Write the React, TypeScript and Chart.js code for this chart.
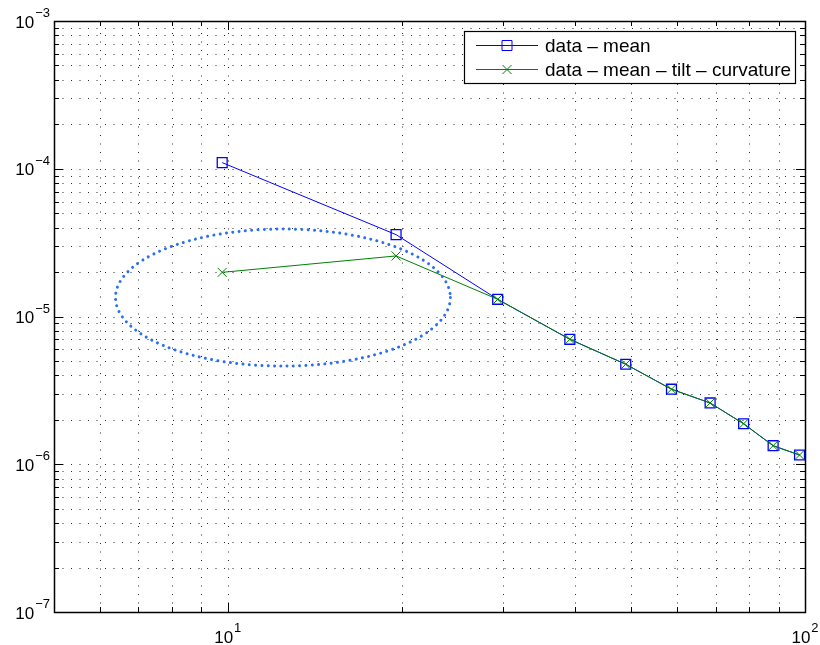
import React, { useEffect, useRef } from "react";
import { Chart, registerables } from "chart.js";

Chart.register(...registerables);

// ---- data ----
const xValues = [9.78, 19.57, 29.35, 39.14, 48.92, 58.71, 68.49, 78.28, 88.06, 97.85];
const meanSeries = [1.1e-4, 3.58e-5, 1.307e-5, 7.01e-6, 4.75e-6, 3.22e-6, 2.6e-6, 1.88e-6, 1.335e-6, 1.155e-6];
const tiltCurvatureSeries = [1.99e-5, 2.57e-5, 1.307e-5, 7.01e-6, 4.75e-6, 3.22e-6, 2.6e-6, 1.88e-6, 1.335e-6, 1.155e-6];
const seriesLabels = ["data \u2013 mean", "data \u2013 mean \u2013 tilt \u2013 curvature"];
const seriesColors = ["#0000ff", "#008000"];
const xRange = [5, 100];
const yRange = [1e-7, 1e-3];
const xTickExponents = [1, 2];
const yTickExponents = [-7, -6, -5, -4, -3];
// highlighted region (data coordinates of the ellipse's bounding box)
const ellipseBounds = { xMin: 6.39, xMax: 24.3, yMin: 4.62e-6, yMax: 3.91e-5 };

const FONT = '"Liberation Sans", Arial, Helvetica, sans-serif';

function logTicks(min: number, max: number) {
  const out: { v: number; major: boolean }[] = [];
  const e0 = Math.floor(Math.log10(min));
  const e1 = Math.ceil(Math.log10(max));
  for (let e = e0; e <= e1; e++) {
    for (let m = 1; m < 10; m++) {
      const v = m * Math.pow(10, e);
      if (v >= min * 0.9999 && v <= max * 1.0001) out.push({ v, major: m === 1 });
    }
  }
  return out;
}

const axesPlugin = {
  id: "matlabAxes",
  beforeDatasetsDraw(chart: any) {
    const { ctx, chartArea: a, scales } = chart;
    const xs = scales.x, ys = scales.y;
    ctx.save();
    ctx.strokeStyle = "#2a2a2a";
    ctx.lineWidth = 1;
    ctx.setLineDash([1, 7.5]);
    for (const t of logTicks(xRange[0], xRange[1])) {
      const px = Math.round(xs.getPixelForValue(t.v)) + 0.5;
      if (px <= a.left + 1 || px >= a.right - 1) continue;
      ctx.beginPath();
      ctx.moveTo(px, a.bottom);
      ctx.lineTo(px, a.top);
      ctx.stroke();
    }
    for (const t of logTicks(yRange[0], yRange[1])) {
      const py = Math.round(ys.getPixelForValue(t.v)) + 0.5;
      if (py <= a.top + 1 || py >= a.bottom - 1) continue;
      ctx.beginPath();
      ctx.moveTo(a.left, py);
      ctx.lineTo(a.right, py);
      ctx.stroke();
    }
    ctx.restore();
  },
  afterDatasetsDraw(chart: any) {
    const { ctx, chartArea: a, scales } = chart;
    const xs = scales.x, ys = scales.y;
    ctx.save();
    // ellipse
    const l = xs.getPixelForValue(ellipseBounds.xMin);
    const r = xs.getPixelForValue(ellipseBounds.xMax);
    const t = ys.getPixelForValue(ellipseBounds.yMax);
    const b = ys.getPixelForValue(ellipseBounds.yMin);
    ctx.strokeStyle = "#2a6ff0";
    ctx.lineWidth = 3;
    ctx.lineCap = "round";
    ctx.setLineDash([0.01, 6.3]);
    ctx.beginPath();
    ctx.ellipse((l + r) / 2, (t + b) / 2, (r - l) / 2, (b - t) / 2, 0, 0, Math.PI * 2);
    ctx.stroke();
    ctx.restore();

    ctx.save();
    ctx.strokeStyle = "#000";
    ctx.lineWidth = 1;
    ctx.setLineDash([]);
    // ticks (inward, all four sides)
    for (const tk of logTicks(xRange[0], xRange[1])) {
      const px = Math.round(xs.getPixelForValue(tk.v)) + 0.5;
      const len = tk.major ? 9 : 5;
      ctx.beginPath();
      ctx.moveTo(px, a.bottom);
      ctx.lineTo(px, a.bottom - len);
      ctx.moveTo(px, a.top);
      ctx.lineTo(px, a.top + len);
      ctx.stroke();
    }
    for (const tk of logTicks(yRange[0], yRange[1])) {
      const py = Math.round(ys.getPixelForValue(tk.v)) + 0.5;
      const len = tk.major ? 9 : 5;
      ctx.beginPath();
      ctx.moveTo(a.left, py);
      ctx.lineTo(a.left + len, py);
      ctx.moveTo(a.right, py);
      ctx.lineTo(a.right - len, py);
      ctx.stroke();
    }
    // border
    ctx.lineWidth = 1.5;
    ctx.strokeRect(Math.round(a.left) + 0.5, Math.round(a.top) + 0.5, Math.round(a.right - a.left), Math.round(a.bottom - a.top));

    // tick labels with superscripts
    ctx.fillStyle = "#000";
    const baseFont = `17px ${FONT}`;
    const supFont = `13px ${FONT}`;
    ctx.textBaseline = "alphabetic";
    ctx.textAlign = "left";
    for (const e of xTickExponents) {
      const px = xs.getPixelForValue(Math.pow(10, e));
      const sup = e < 0 ? "\u2212" + Math.abs(e) : String(e);
      ctx.font = baseFont;
      const w1 = ctx.measureText("10").width;
      ctx.font = supFont;
      const w2 = ctx.measureText(sup).width;
      const x0 = px - (w1 + 1 + w2) / 2;
      ctx.font = baseFont;
      ctx.fillText("10", x0, a.bottom + 30.5);
      ctx.font = supFont;
      ctx.fillText(sup, x0 + w1 + 1, a.bottom + 19.5);
    }
    for (const e of yTickExponents) {
      const py = ys.getPixelForValue(Math.pow(10, e));
      const sup = e < 0 ? "\u2212" + Math.abs(e) : String(e);
      ctx.font = supFont;
      const w2 = ctx.measureText(sup).width;
      ctx.font = baseFont;
      const w1 = ctx.measureText("10").width;
      const right = a.left - 4;
      ctx.font = supFont;
      ctx.fillText(sup, right - w2, py - 4);
      ctx.font = baseFont;
      ctx.fillText("10", right - w2 - 1 - w1, py + 6.5);
    }
    ctx.restore();

    // legend
    ctx.save();
    const legFont = `19px ${FONT}`;
    ctx.font = legFont;
    let maxW = 0;
    for (const s of seriesLabels) maxW = Math.max(maxW, ctx.measureText(s).width);
    const boxRight = Math.round(a.right) - 10;
    const boxTop = Math.round(a.top) + 10;
    const textOffset = 81;
    const boxW = Math.round(textOffset + maxW + 4);
    const boxH = 52;
    const boxLeft = boxRight - boxW;
    ctx.fillStyle = "#fff";
    ctx.fillRect(boxLeft, boxTop, boxW, boxH);
    ctx.strokeStyle = "#000";
    ctx.lineWidth = 1.2;
    ctx.strokeRect(boxLeft + 0.5, boxTop + 0.5, boxW, boxH);
    const rows = [boxTop + 14.5, boxTop + 38.5];
    chart.data.datasets.forEach((ds: any, i: number) => {
      const yy = rows[i];
      ctx.strokeStyle = ds.borderColor;
      ctx.lineWidth = 1;
      ctx.beginPath();
      ctx.moveTo(boxLeft + 12, yy);
      ctx.lineTo(boxLeft + 74, yy);
      ctx.stroke();
      const mx = boxLeft + 43;
      ctx.beginPath();
      if (ds.pointStyle === "rect") {
        ctx.rect(mx - 5, yy - 5, 10, 10);
      } else {
        ctx.moveTo(mx - 4.5, yy - 4.5);
        ctx.lineTo(mx + 4.5, yy + 4.5);
        ctx.moveTo(mx + 4.5, yy - 4.5);
        ctx.lineTo(mx - 4.5, yy + 4.5);
      }
      ctx.stroke();
      ctx.fillStyle = "#000";
      ctx.font = legFont;
      ctx.textBaseline = "middle";
      ctx.fillText(ds.label, boxLeft + textOffset, yy + 1);
    });
    ctx.restore();
  },
};

export default function App() {
  const ref = useRef<HTMLCanvasElement | null>(null);
  useEffect(() => {
    document.body.style.margin = "0";
    const canvas = ref.current!;
    const mk = (ys: number[]) => xValues.map((x, i) => ({ x, y: ys[i] }));
    const chart = new Chart(canvas, {
      type: "line",
      data: {
        datasets: [
          {
            label: seriesLabels[0],
            data: mk(meanSeries),
            order: 2,
            borderColor: seriesColors[0],
            backgroundColor: "transparent",
            borderWidth: 1,
            pointStyle: "rect",
            pointRadius: 7,
            pointBorderWidth: 1.3,
            pointBorderColor: seriesColors[0],
            pointBackgroundColor: "rgba(0,0,0,0)",
            tension: 0,
          },
          {
            label: seriesLabels[1],
            data: mk(tiltCurvatureSeries),
            order: 1,
            borderColor: seriesColors[1],
            backgroundColor: "transparent",
            borderWidth: 1,
            pointStyle: "crossRot",
            pointRadius: 6.4,
            pointBorderWidth: 1,
            pointBorderColor: seriesColors[1],
            pointBackgroundColor: "rgba(0,0,0,0)",
            tension: 0,
          },
        ],
      },
      options: {
        responsive: false,
        animation: false,
        layout: { padding: { left: 54, top: 21, right: 15, bottom: 33 } },
        scales: {
          x: { type: "logarithmic", min: xRange[0], max: xRange[1], display: false },
          y: { type: "logarithmic", min: yRange[0], max: yRange[1], display: false },
        },
        plugins: { legend: { display: false }, tooltip: { enabled: false } },
        events: [],
      },
      plugins: [axesPlugin],
    });
    return () => chart.destroy();
  }, []);
  return (
    <div style={{ position: "fixed", left: 0, top: 0, width: 820, height: 645, background: "#fff" }}>
      <canvas ref={ref} width={820} height={645} style={{ display: "block" }} />
    </div>
  );
}
